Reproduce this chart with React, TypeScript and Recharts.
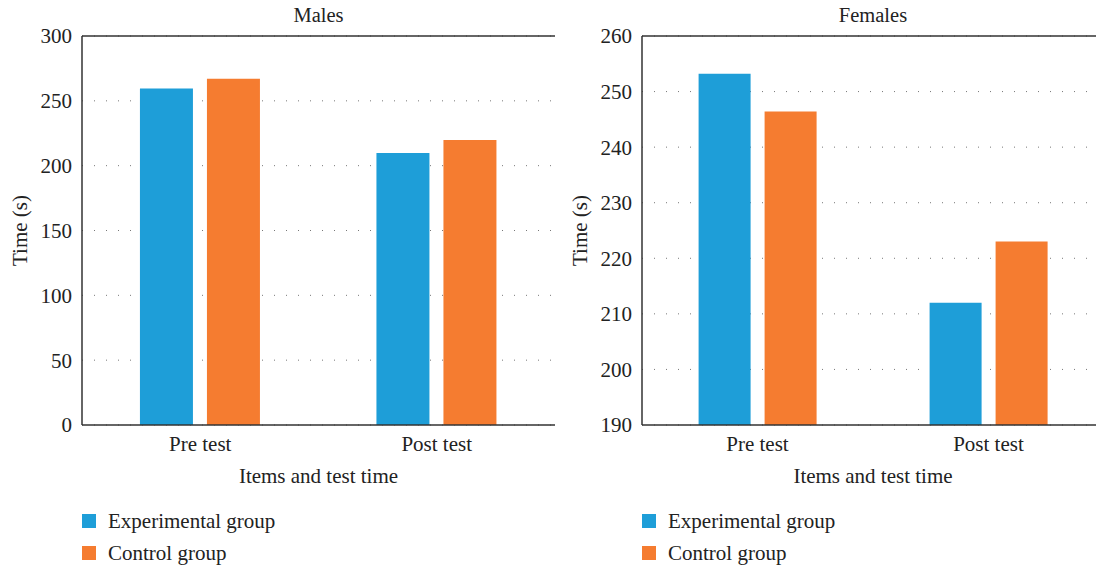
import React from 'react';
import {
  Bar,
  BarChart,
  CartesianGrid,
  Legend,
  ReferenceLine,
  XAxis,
  YAxis,
} from 'recharts';

const categories = ['Pre test', 'Post test'];
const seriesNames = ['Experimental group', 'Control group'];
const malesExperimental = [259.5, 209.8];
const malesControl = [267, 219.7];
const femalesExperimental = [253.2, 212];
const femalesControl = [246.4, 223];
const malesTicks = [0, 50, 100, 150, 200, 250, 300];
const femalesTicks = [190, 200, 210, 220, 230, 240, 250, 260];

const BLUE = '#1e9ed8';
const ORANGE = '#f57c30';
const FONT = '"Liberation Serif", "DejaVu Serif", serif';
const AXIS = '#333333';
const TEXT = '#222';

// legend drawn as a plain stacked list, kept in series order
function LegendBox({ payload }: any) {
  const items = [...(payload || [])].sort(
    (a: any, b: any) => seriesNames.indexOf(a.value) - seriesNames.indexOf(b.value),
  );
  return (
    <div style={{ fontFamily: FONT, fontSize: 21, color: TEXT }}>
      {items.map((p: any) => (
        <div
          key={p.value}
          style={{ display: 'flex', alignItems: 'center', height: 32 }}
        >
          <span
            style={{
              width: 14,
              height: 14,
              background: p.color,
              display: 'inline-block',
              marginRight: 12,
            }}
          />
          {p.value}
        </div>
      ))}
    </div>
  );
}

function Panel({
  title,
  exp,
  ctrl,
  ticks,
  width,
  marginRight,
  rightBorder,
}: {
  title: string;
  exp: number[];
  ctrl: number[];
  ticks: number[];
  width: number;
  marginRight: number;
  rightBorder: boolean;
}) {
  const rows = categories.map((name, i) => ({
    name,
    experimental: exp[i],
    control: ctrl[i],
  }));
  const domain = [ticks[0], ticks[ticks.length - 1]];
  const tickStyle = { fontFamily: FONT, fontSize: 21, fill: TEXT };

  return (
    <BarChart
      width={width}
      height={566}
      data={rows}
      margin={{ top: 36, right: marginRight, bottom: 81, left: 0 }}
      barCategoryGap="24.5%"
      barGap={14}
    >
      <CartesianGrid
        horizontal
        vertical={false}
        stroke="#777"
        strokeDasharray="1 11"
        yAxisId="left"
      />
      <XAxis
        dataKey="name"
        height={60}
        tick={tickStyle}
        tickLine={false}
        tickSize={0}
        tickMargin={11}
        axisLine={{ stroke: AXIS, strokeWidth: 1.5 }}
        label={{
          value: 'Items and test time',
          position: 'insideBottom',
          offset: 2,
          style: { fontFamily: FONT, fontSize: 21, fill: TEXT },
        }}
      />
      <YAxis
        yAxisId="left"
        width={82}
        domain={domain}
        ticks={ticks}
        interval={0}
        tick={tickStyle}
        tickLine={false}
        tickSize={0}
        tickMargin={10}
        axisLine={{ stroke: AXIS, strokeWidth: 1.5 }}
        label={{
          value: 'Time (s)',
          angle: -90,
          position: 'insideLeft',
          offset: 20,
          style: {
            fontFamily: FONT,
            fontSize: 21,
            fill: TEXT,
            textAnchor: 'middle',
          },
        }}
      />
      {rightBorder && (
        <YAxis
          yAxisId="right"
          orientation="right"
          width={0}
          domain={domain}
          tick={false}
          tickLine={false}
          axisLine={{ stroke: AXIS, strokeWidth: 1.5 }}
        />
      )}
      <ReferenceLine
        yAxisId="left"
        y={domain[1]}
        stroke={AXIS}
        strokeWidth={1.5}
        label={{
          value: title,
          position: 'top',
          offset: 14,
          style: { fontFamily: FONT, fontSize: 20.5, fill: TEXT },
        }}
      />
      <Bar
        yAxisId="left"
        dataKey="experimental"
        name={seriesNames[0]}
        fill={BLUE}
        isAnimationActive={false}
      />
      <Bar
        yAxisId="left"
        dataKey="control"
        name={seriesNames[1]}
        fill={ORANGE}
        isAnimationActive={false}
      />
      <Legend
        layout="horizontal"
        verticalAlign="middle"
        align="center"
        content={<LegendBox />}
        wrapperStyle={{ position: 'absolute', left: 82, top: 505, width: 'auto' }}
      />
    </BarChart>
  );
}

export default function App() {
  return (
    <div
      style={{
        position: 'fixed',
        left: 0,
        top: 0,
        width: 1096,
        height: 566,
        overflow: 'hidden',
        background: '#fff',
      }}
    >
      <div style={{ position: 'absolute', left: 0, top: 0 }}>
        <Panel
          title="Males"
          exp={malesExperimental}
          ctrl={malesControl}
          ticks={malesTicks}
          width={570}
          marginRight={15}
          rightBorder
        />
      </div>
      <div style={{ position: 'absolute', left: 560, top: 0 }}>
        <Panel
          title="Females"
          exp={femalesExperimental}
          ctrl={femalesControl}
          ticks={femalesTicks}
          width={560}
          marginRight={16}
          rightBorder={false}
        />
      </div>
    </div>
  );
}
